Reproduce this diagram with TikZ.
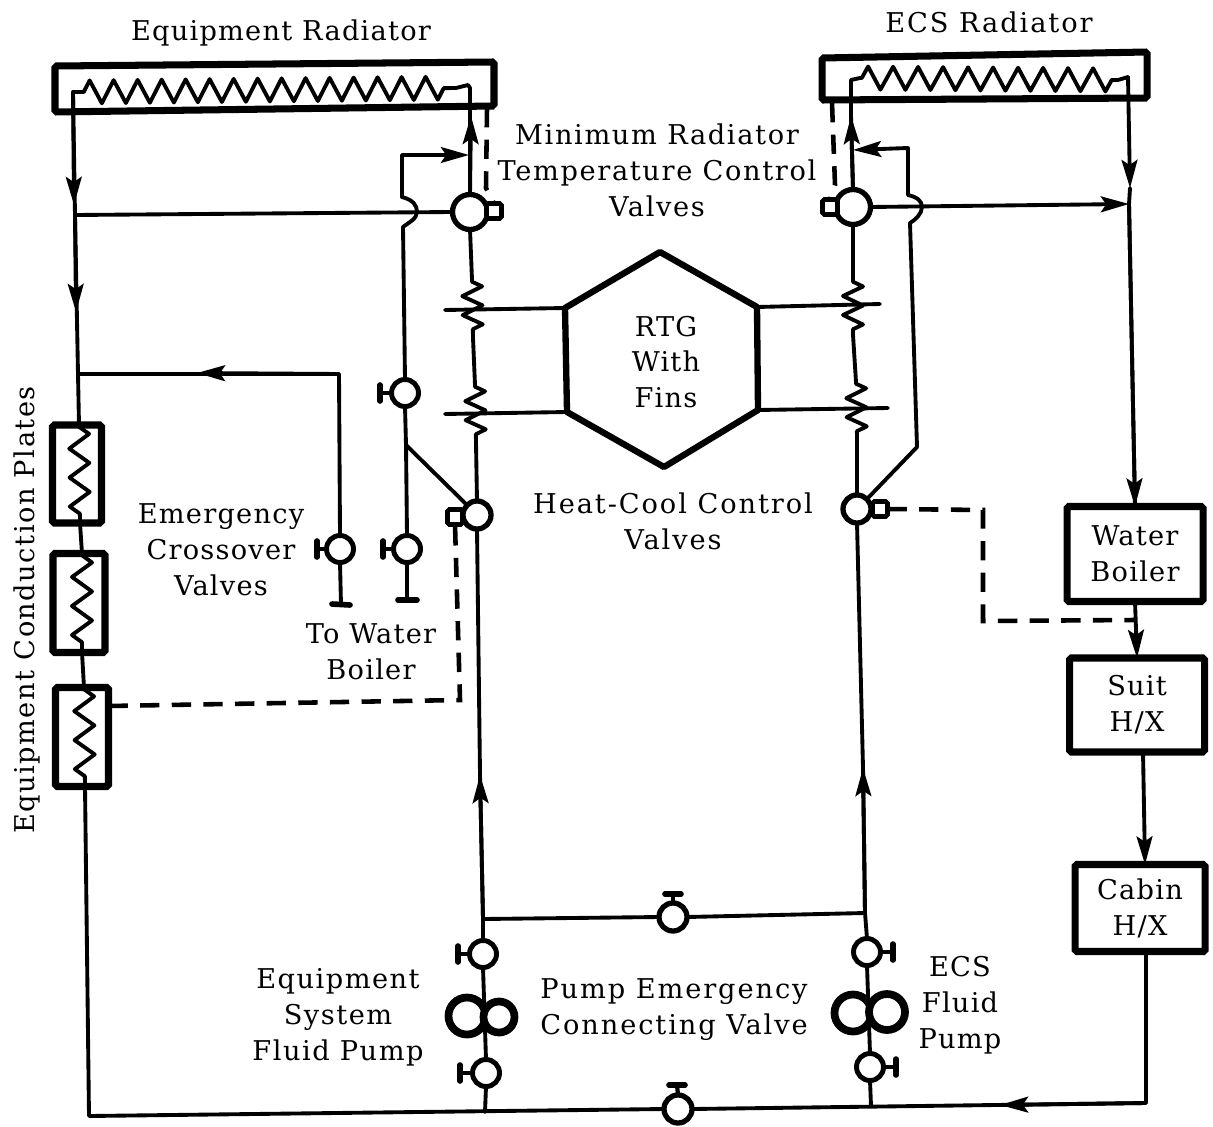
\documentclass[tikz,border=0pt]{standalone}
\usepackage{fontspec}
\setmainfont[LetterSpace=4.5]{DejaVu Serif}
\usetikzlibrary{arrows.meta,calc,decorations.pathmorphing}
\tikzset{
  pipe/.style={line width=2.2pt,line cap=round,line join=round},
  arr/.style={pipe,-{Stealth[length=16pt,width=9pt,inset=3pt]}},
  dash line/.style={line width=2.6pt,dash pattern=on 11pt off 7pt},
  thickbox/.style={draw,line width=4pt,fill=white,rectangle,rounded corners=1pt,outer sep=0pt,inner sep=0pt,align=center},
  plate/.style={thickbox},
  valve/.style={circle,draw,fill=white,line width=2.8pt,inner sep=0pt,outer sep=0pt},
  vs/.style={valve,minimum size=27*0.2mm},
  vm/.style={valve,line width=3pt,minimum size=28*0.2mm},
  vb/.style={valve,line width=3pt,minimum size=35*0.2mm},
  pumpa/.style={circle,draw,fill=white,line width=4.4pt,inner sep=0pt,outer sep=0pt,minimum size=37*0.2mm},
  actuator/.style={draw,fill=white,line width=2.6pt,rectangle,rounded corners=1pt,inner sep=0pt,outer sep=0pt,minimum size=15*0.2mm},
  handle/.style={line width=2.4pt},
  handlebar/.style={line width=3.2pt,line cap=round},
  zz/.style={pipe,decorate,decoration={zigzag,segment length=#1*0.2mm,amplitude=10*0.2mm,pre length=1pt,post length=1pt}},
  lab/.style={align=center,font=\fontsize{15.5}{20.4}\selectfont,inner sep=0pt},
  ls/.style={font=\fontsize{15.5}{20.4}\selectfont\addfontfeature{LetterSpace=#1}},
}
\begin{document}
\begin{tikzpicture}[x=0.2mm,y=-0.2mm]
\useasboundingbox (0,0) rectangle (1213,1126);

% ---- radiators
\draw[line width=4pt,rounded corners=1pt] (55,66) coordinate (lr1) -- (494,62) coordinate (lr2) -- (494,106) coordinate (lr3) -- (55,112) coordinate (lr4) -- cycle;
\draw[line width=4pt,rounded corners=1pt] (822,58) coordinate (rr1) -- (1147,52) coordinate (rr2) -- (1147,98) coordinate (rr3) -- (822,100) coordinate (rr4) -- cycle;

% named points
\coordinate (lmainA) at (73,92);
\coordinate (lmainB) at (82,92);
\coordinate (lzzEnd) at (456,88);
\coordinate (lzzC) at (468,85);
\coordinate (rzzA) at (851,80);
\coordinate (rzzB) at (860,78);
\coordinate (rzzEnd) at (1118,80);
\coordinate (rzzC) at (1128,77);
\coordinate (l1) at (75,215);
\coordinate (lX) at (78,374);
\coordinate (rJ) at (1129,204);

% left main pipe
\draw[pipe] (lmainB) -- (lmainA) -- (l1) -- (lX);
\draw[zz=24,decoration={amplitude=11.5*0.2mm}] (lmainB) -- (lzzEnd);
\draw[pipe] (lzzEnd) -- (lzzC);
\draw[pipe] (rzzA) -- (rzzB);
\draw[zz=25,decoration={amplitude=11.5*0.2mm}] (rzzB) -- (rzzEnd);
\draw[pipe] (rzzEnd) -- (rzzC);

% left column arrows
\coordinate (a1) at (74,205);
\coordinate (a2) at (76,312);
\draw[arr] (lmainA) -- (a1);
\draw[arr] (l1) -- (a2);

% RTG
\coordinate (h1) at (660,252);
\coordinate (h2) at (757,307);
\coordinate (h3) at (758,410);
\coordinate (h4) at (664,467);
\coordinate (h5) at (567,412);
\coordinate (h6) at (565,308);
\draw[line width=3.6pt,line join=round] (h1) -- (h2) -- (h3) -- (h4) -- (h5) -- (h6) -- cycle;
\node[lab] (rtg) at (666,362) {RTG\\With\\Fins};
\coordinate (f1a) at (445,310); \coordinate (f1b) at (445,414);
\coordinate (f2a) at (880,304); \coordinate (f2b) at (888,408);
\draw[pipe] (f1a) -- (h6);
\draw[pipe] (f1b) -- (h5);
\draw[pipe] (f2a) -- (h2);
\draw[pipe] (f2b) -- (h3);

% central pipes
\coordinate (Lr1a) at (472,280); \coordinate (Lr1b) at (473,338);
\coordinate (Lr2a) at (475,385); \coordinate (Lr2b) at (476,443);
\coordinate (Rr1a) at (853,280); \coordinate (Rr1b) at (853,335);
\coordinate (Rr2a) at (856,382); \coordinate (Rr2b) at (857,438);

\node[vb] (VL) at (470,212) {};
\node[vb] (VR) at (853,207) {};
\node[vm] (HL) at (477,515) {};
\node[vm] (HR) at (857,509) {};

\coordinate (ltop) at (470,88);
\coordinate (lta) at (471,116);
\coordinate (rta) at (851,116);
\draw[pipe] (lzzC) -- (ltop) -- (VL.north);
\draw[arr] (VL.north) -- (lta);
\draw[pipe] (rzzA) -- (rta) -- (VR.north);
\draw[arr] (VR.north) -- (rta);
\draw[pipe] (VL.south) -- (Lr1a);
\draw[zz=19] (Lr1a) -- (Lr1b);
\draw[pipe] (Lr1b) -- (Lr2a);
\draw[zz=19] (Lr2a) -- (Lr2b);
\draw[pipe] (Lr2b) -- (HL.north);
\draw[pipe] (VR.south) -- (Rr1a);
\draw[zz=19] (Rr1a) -- (Rr1b);
\draw[pipe] (Rr1b) -- (Rr2a);
\draw[zz=19] (Rr2a) -- (Rr2b);
\draw[pipe] (Rr2b) -- (HR.north);

% horizontals at big valves
\draw[pipe] (l1) -- (VL.west);
\draw[arr] (VR.east) -- (rJ);

% bypass lines with jumps
\coordinate (byL1) at (402,155);
\coordinate (byL2) at (402,197);
\coordinate (byL3) at (417,212);
\coordinate (byL4) at (403,227);
\coordinate (tee) at (406,445);
\node[vs] (Eb) at (405,393) {};
\node[vs] (Ec) at (407,549) {};
\node[vs] (Ed) at (340,549) {};
\coordinate (arrBy) at (469,155);
\draw[arr] (byL2) -- (byL1) -- (arrBy);
\draw[pipe] (byL2) .. controls (413,200) and (417,205) .. (byL3) .. controls (417,219) and (408,223) .. (byL4) -- (Eb.north);
\draw[pipe] (Eb.south) -- (tee) -- (Ec.north);
\draw[pipe] (tee) -- (HL.north west);
\coordinate (byR1) at (908,148);
\coordinate (byR2) at (908,195);
\coordinate (byR3) at (922,207);
\coordinate (byR4) at (910,223);
\coordinate (byR5) at (917,447);
\coordinate (arrByR) at (853,150);
\draw[arr] (byR2) -- (byR1) -- (arrByR);
\draw[pipe] (byR2) .. controls (917,197) and (922,201) .. (byR3) .. controls (922,214) and (915,220) .. (byR4) -- (byR5) -- (HR.north east);

% crossover
\coordinate (Xa) at (339,374);
\coordinate (Xarr) at (197,373);
\draw[pipe] (lX) -- (Xa) -- (Ed.north);
\draw[arr] (Xa) -- (Xarr);

% to water boiler tails
\coordinate (t1) at (341,605); \coordinate (t1a) at (332,604); \coordinate (t1b) at (350,605);
\coordinate (t2) at (407,600); \coordinate (t2a) at (398,600); \coordinate (t2b) at (417,600);
\draw[pipe] (Ed.south) -- (t1);
\draw[handlebar] (t1a) -- (t1b);
\draw[pipe] (Ec.south) -- (t2);
\draw[handlebar] (t2a) -- (t2b);

% handles
\coordinate (hEb) at (380,393); \coordinate (hEc) at (383,549); \coordinate (hEd) at (317,549);
\draw[handle] (Eb.west) -- (hEb);
\draw[handlebar] ($(hEb)+(0,-8)$) -- ($(hEb)+(0,8)$);
\draw[handle] (Ec.west) -- (hEc);
\draw[handlebar] ($(hEc)+(0,-8)$) -- ($(hEc)+(0,8)$);
\draw[handle] (Ed.west) -- (hEd);
\draw[handlebar] ($(hEd)+(0,-8)$) -- ($(hEd)+(0,8)$);

% actuators
\node[actuator] (aVL) at (494,211) {};
\node[actuator] (aVR) at (830,207) {};
\node[actuator] (aHL) at (455,517) {};
\node[actuator] (aHR) at (880,509) {};

% plates
\node[plate,minimum width=49*0.2mm,minimum height=98*0.2mm] (P1) at (77,474) {};
\node[plate,minimum width=52*0.2mm,minimum height=99*0.2mm] (P2) at (79,603) {};
\node[plate,minimum width=53*0.2mm,minimum height=99*0.2mm] (P3) at (82,737) {};
\coordinate (P1t) at ($(P1.north)+(2,0)$); \coordinate (P1b) at ($(P1.south)+(3,0)$);
\coordinate (P2t) at ($(P2.north)+(3,0)$); \coordinate (P2b) at ($(P2.south)+(3,0)$);
\coordinate (P3t) at ($(P3.north)+(2,0)$); \coordinate (P3b) at ($(P3.south)+(3,0)$);
\draw[zz=29] (P1t) -- (P1b);
\draw[zz=29] (P2t) -- (P2b);
\draw[zz=29] (P3t) -- (P3b);
\draw[pipe] (lX) -- (P1t);
\draw[pipe] (P1b) -- (P2t);
\draw[pipe] (P2b) -- (P3t);

% right boxes
\node[thickbox,minimum width=136*0.2mm,minimum height=95*0.2mm,lab] (WB) at (1135,554) {Water\\Boiler};
\node[thickbox,minimum width=135*0.2mm,minimum height=94*0.2mm,lab] (SH) at (1137,705) {Suit\\H/X};
\node[thickbox,minimum width=130*0.2mm,minimum height=87*0.2mm,lab] (CH) at (1140,908) {Cabin\\H/X};
\coordinate (ra1) at (1130,188);
\draw[arr] (rzzC) -- (ra1);
\draw[pipe] (ra1) -- (rJ) -- (WB.north);
\draw[arr] (rJ) -- (WB.north);
\draw[arr] (WB.south) -- (SH.north);
\coordinate (SHo) at ($(SH.south)+(6,0)$);
\coordinate (CHi) at ($(CH.north)+(5,0)$);
\coordinate (CHo) at ($(CH.south)+(6,0)$);
\draw[arr] (SHo) -- (CHi);

% pumps and bottom valves
\coordinate (bl) at (89,1116);
\coordinate (br) at (1146,1103);
\coordinate (bLj) at (485,1112);
\coordinate (bRj) at (871,1106);
\coordinate (tLj) at (483,919);
\coordinate (tRj) at (865,913);
\coordinate (barr) at (1000,1105);
\node[vs] (v1) at (483,954) {};
\node[vs] (v2) at (486,1073) {};
\node[vs] (v3) at (867,952) {};
\node[vs] (v4) at (870,1067) {};
\node[vm] (v5) at (673,917) {};
\node[vm] (v6) at (678,1109) {};
\coordinate (ar1) at (480,775);
\coordinate (ar2) at (863,768);

\draw[pipe] (CHo) -- (br) -- (v6.east);
\draw[arr] (br) -- (barr);
\draw[pipe] (v6.west) -- (bl) -- (P3b);
\draw[pipe] (HL.south) -- (ar1) -- (tLj);
\draw[arr] (tLj) -- (ar1);
\draw[pipe] (HR.south) -- (ar2) -- (tRj);
\draw[arr] (tRj) -- (ar2);
\draw[pipe] (tLj) -- (v5.west);
\draw[pipe] (v5.east) -- (tRj);
\draw[pipe] (tLj) -- (v1.north);
\draw[pipe] (tRj) -- (v3.north);
\draw[pipe] (v1.south) -- (v2.north);
\draw[pipe] (v3.south) -- (v4.north);
\draw[pipe] (v2.south) -- (bLj);
\draw[pipe] (v4.south) -- (bRj);
\node[pumpa] (pL1) at (467,1016) {};
\node[pumpa,minimum size=31*0.2mm] (pL2) at (499,1017) {};
\node[pumpa] (pR1) at (853,1013) {};
\node[pumpa,minimum size=36*0.2mm] (pR2) at (887,1012) {};

% lower handles
\coordinate (hv1) at (458,954); \coordinate (hv2) at (460,1073);
\coordinate (hv3) at (893,952); \coordinate (hv4) at (896,1067);
\coordinate (hv5) at (673,894); \coordinate (hv6) at (677,1085);
\draw[handle] (v1.west) -- (hv1);
\draw[handlebar] ($(hv1)+(0,-8)$) -- ($(hv1)+(0,8)$);
\draw[handle] (v2.west) -- (hv2);
\draw[handlebar] ($(hv2)+(0,-8)$) -- ($(hv2)+(0,8)$);
\draw[handle] (v3.east) -- (hv3);
\draw[handlebar] ($(hv3)+(0,-8)$) -- ($(hv3)+(0,8)$);
\draw[handle] (v4.east) -- (hv4);
\draw[handlebar] ($(hv4)+(0,-8)$) -- ($(hv4)+(0,8)$);
\draw[handle] (v5.north) -- (hv5);
\draw[handlebar] ($(hv5)+(-8,0)$) -- ($(hv5)+(8,0)$);
\draw[handle] (v6.north) -- (hv6);
\draw[handlebar] ($(hv6)+(-8,0)$) -- ($(hv6)+(8,0)$);

% dashed control lines
\coordinate (d1a) at (487,108); \coordinate (d1b) at (486,188);
\draw[dash line] (d1a) -- (d1b) -- (aVL.north);
\coordinate (d2a) at (832,103); \coordinate (d2b) at (835,185);
\draw[dash line] (d2a) -- (d2b) -- (aVR.north);
\coordinate (d3) at (460,700);
\draw[dash line] (P3.east |- 0,706) -- (d3) -- (aHL.south);
\coordinate (d4a) at (983,510); \coordinate (d4b) at (983,621); \coordinate (d4c) at (1135,620);
\draw[dash line] (aHR.east) -- (d4a) -- (d4b) -- (d4c);

% labels
\node[lab] (t1lab) at (281,33) {Equipment Radiator};
\node[lab,ls=7] (t2lab) at (989,22) {ECS Radiator};
\node[lab,ls=6] (t3lab) at (657,170) {Minimum Radiator\\Temperature Control\\Valves};
\node[lab,ls=7] (t4lab) at (673,521) {Heat-Cool Control\\Valves};
\node[lab] (t5lab) at (221,550) {Emergency\\Crossover\\Valves};
\node[lab] (t6lab) at (371,652) {To Water\\Boiler};
\node[lab,rotate=90,ls=5.5] (t7lab) at (27,610) {Equipment Conduction Plates};
\node[lab,ls=5.5] (t8lab) at (338,1017) {Equipment\\System\\Fluid Pump};
\node[lab,ls=7] (t9lab) at (674,1010) {Pump Emergency\\Connecting Valve};
\node[lab] (t10lab) at (960,1005) {ECS\\Fluid\\Pump};
\end{tikzpicture}
\end{document}
